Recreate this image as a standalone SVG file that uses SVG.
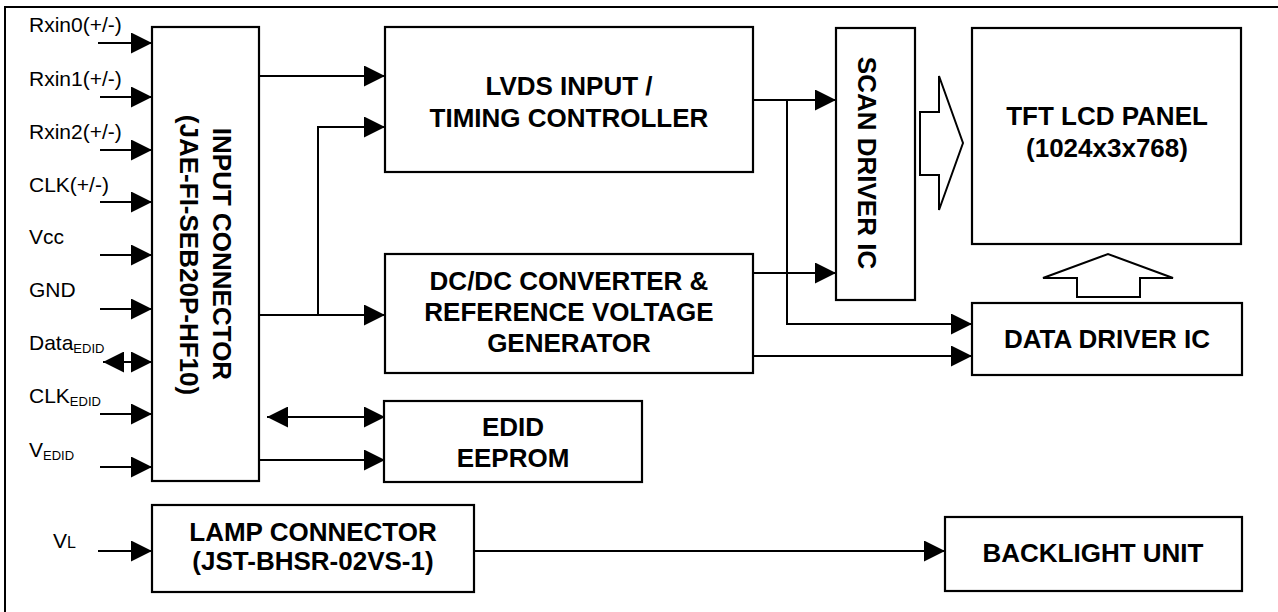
<svg xmlns="http://www.w3.org/2000/svg" width="1278" height="612" viewBox="0 0 1278 612">
<style>
.box{fill:#fff;stroke:#000;stroke-width:2.2}
.ln{fill:none;stroke:#000;stroke-width:2}
.t{font-family:"Liberation Sans",Arial,sans-serif;font-weight:bold;font-size:26px;fill:#000;text-anchor:middle}
.lb{font-family:"Liberation Sans",Arial,sans-serif;font-size:21px;fill:#000}
.sub{font-size:13px}
.hol{fill:#fff;stroke:#000;stroke-width:2}
</style>
<defs>
<marker id="ah" viewBox="0 0 21 21" refX="21" refY="10.5" markerWidth="21" markerHeight="21" markerUnits="userSpaceOnUse" orient="auto-start-reverse">
<path d="M0,0 L21,10.5 L0,21 z" fill="#000"/>
</marker>
</defs>
<rect width="1278" height="612" fill="#fff"/>
<path d="M5,620 V7 H1290" fill="none" stroke="#000" stroke-width="2"/>

<g id="labels">
<text class="lb" x="29" y="32">Rxin0(+/-)</text>
<text class="lb" x="29" y="86">Rxin1(+/-)</text>
<text class="lb" x="29" y="139">Rxin2(+/-)</text>
<text class="lb" x="29" y="192">CLK(+/-)</text>
<text class="lb" x="29" y="244">Vcc</text>
<text class="lb" x="29" y="297">GND</text>
<text class="lb" x="29" y="350">Data<tspan class="sub" dy="3">EDID</tspan></text>
<text class="lb" x="29" y="403">CLK<tspan class="sub" dy="3">EDID</tspan></text>
<text class="lb" x="29" y="457">V<tspan class="sub" dy="3">EDID</tspan></text>
<text class="lb" x="53" y="548">V<tspan style="font-size:16px">L</tspan></text>
</g>

<g id="input-connector">
<rect class="box" x="152" y="27" width="107" height="454"/>
<text class="t" transform="translate(213,254) rotate(90)">INPUT CONNECTOR</text>
<text class="t" transform="translate(180,255) rotate(90)">(JAE-FI-SEB20P-HF10)</text>
</g>

<g id="lvds">
<rect class="box" x="385" y="27" width="368" height="145"/>
<text class="t" x="569" y="95">LVDS INPUT /</text>
<text class="t" x="569" y="127">TIMING CONTROLLER</text>
</g>

<g id="dcdc">
<rect class="box" x="385" y="254" width="368" height="119"/>
<text class="t" x="569" y="290">DC/DC CONVERTER &amp;</text>
<text class="t" x="569" y="321">REFERENCE VOLTAGE</text>
<text class="t" x="569" y="352">GENERATOR</text>
</g>

<g id="edid">
<rect class="box" x="384" y="401" width="258" height="81"/>
<text class="t" x="513" y="436">EDID</text>
<text class="t" x="513" y="467">EEPROM</text>
</g>

<g id="scan-driver">
<rect class="box" x="836" y="28" width="79" height="272"/>
<text class="t" transform="translate(858,163) rotate(90)">SCAN DRIVER IC</text>
</g>

<g id="tft-panel">
<rect class="box" x="972" y="28" width="269" height="216"/>
<text class="t" x="1107" y="125">TFT LCD PANEL</text>
<text class="t" x="1107" y="157">(1024x3x768)</text>
</g>

<g id="data-driver">
<rect class="box" x="972" y="303" width="270" height="72"/>
<text class="t" x="1107" y="348">DATA DRIVER IC</text>
</g>

<g id="lamp-connector">
<rect class="box" x="152" y="505" width="322" height="87"/>
<text class="t" x="313" y="541">LAMP CONNECTOR</text>
<text class="t" x="313" y="570">(JST-BHSR-02VS-1)</text>
</g>

<g id="backlight">
<rect class="box" x="945" y="517" width="297" height="74"/>
<text class="t" x="1093" y="562">BACKLIGHT UNIT</text>
</g>

<g id="connectors">
<line class="ln" x1="98" y1="43" x2="152" y2="43" marker-end="url(#ah)"/>
<line class="ln" x1="100" y1="97" x2="152" y2="97" marker-end="url(#ah)"/>
<line class="ln" x1="100" y1="150" x2="152" y2="150" marker-end="url(#ah)"/>
<line class="ln" x1="100" y1="202" x2="152" y2="202" marker-end="url(#ah)"/>
<line class="ln" x1="100" y1="255" x2="152" y2="255" marker-end="url(#ah)"/>
<line class="ln" x1="100" y1="309" x2="152" y2="309" marker-end="url(#ah)"/>
<line class="ln" x1="103" y1="362" x2="152" y2="362" marker-start="url(#ah)" marker-end="url(#ah)"/>
<line class="ln" x1="100" y1="414" x2="152" y2="414" marker-end="url(#ah)"/>
<line class="ln" x1="100" y1="467" x2="152" y2="467" marker-end="url(#ah)"/>
<line class="ln" x1="98" y1="551" x2="152" y2="551" marker-end="url(#ah)"/>

<line class="ln" x1="259" y1="76" x2="385" y2="76" marker-end="url(#ah)"/>
<polyline class="ln" points="318,315 318,127 385,127" marker-end="url(#ah)"/>
<line class="ln" x1="259" y1="315" x2="385" y2="315" marker-end="url(#ah)"/>
<line class="ln" x1="267" y1="417" x2="385" y2="417" marker-start="url(#ah)" marker-end="url(#ah)"/>
<line class="ln" x1="259" y1="460" x2="385" y2="460" marker-end="url(#ah)"/>

<line class="ln" x1="753" y1="100" x2="836" y2="100" marker-end="url(#ah)"/>
<polyline class="ln" points="787,100 787,324 972,324" marker-end="url(#ah)"/>
<line class="ln" x1="753" y1="273" x2="836" y2="273" marker-end="url(#ah)"/>
<line class="ln" x1="753" y1="356" x2="972" y2="356" marker-end="url(#ah)"/>
<line class="ln" x1="474" y1="551" x2="945" y2="551" marker-end="url(#ah)"/>

<polygon class="hol" points="920,112 939,112 939,76 963,143 939,210 939,175 920,175"/>
<polygon class="hol" points="1077,297 1077,278 1043,278 1108,254 1173,278 1140,278 1140,297"/>
</g>
</svg>
